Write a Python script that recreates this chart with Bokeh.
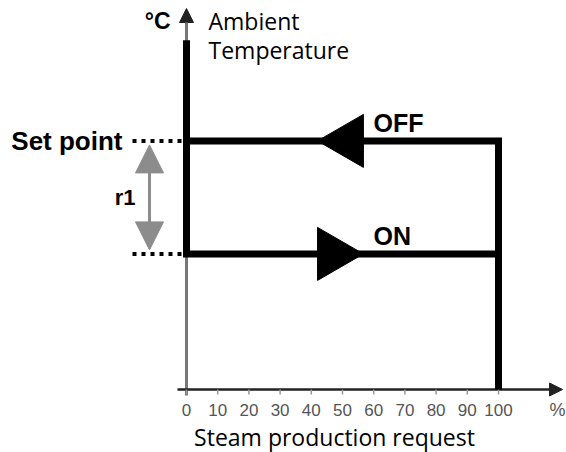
import math
from bokeh.plotting import figure
from bokeh.models import Range1d, Arrow, NormalHead
from bokeh.core.properties import value
from bokeh.embed import file_html
from bokeh.resources import INLINE

# ---------------- data ----------------
x_ticks = [0, 10, 20, 30, 40, 50, 60, 70, 80, 90, 100]
x_tick_labels = ["0", "10", "20", "30", "40", "50", "60", "70", "80", "90", "100"]
x_unit = "%"
x_title = "Steam production request"
y_unit = "°C"
y_title = ["Ambient", "Temperature"]
set_point = 22.0          # set point level (schematic units)
r1 = 10.0                 # differential
on_level = set_point - r1
req_min, req_max = 0, 100
trace_top = 30.9          # top of the ambient temperature trace
state_labels = ["OFF", "ON"]
state_levels = [set_point, on_level]
state_arrow_x = [51.8, 46.9]   # direction markers along the request axis

# ---------------- scales ----------------
PX_X = 3.12   # px per % unit
PX_Y = 11.3   # px per temperature unit
FRAME_W, FRAME_H = 566, 452
ORIGIN_X, ORIGIN_Y = 186, 389   # origin position inside the frame (px from left / top)


def dx(px):
    return px / PX_X


def dy(px):
    return px / PX_Y


x0 = -dx(ORIGIN_X)
y1 = dy(ORIGIN_Y)
p = figure(
    frame_width=FRAME_W, frame_height=FRAME_H,
    x_range=Range1d(x0, x0 + dx(FRAME_W)),
    y_range=Range1d(y1 - dy(FRAME_H), y1),
    output_backend="svg", toolbar_location=None,
    x_axis_location=None, y_axis_location=None,
    min_border_left=0, min_border_right=0, min_border_top=0, min_border_bottom=0,
)
p.grid.visible = False
p.outline_line_color = None
p.background_fill_color = "white"
p.border_fill_color = "white"

# axes with arrows
p.add_layout(Arrow(end=NormalHead(size=14, fill_color="#222222", line_color="#222222"),
                   x_start=req_min, y_start=-dy(6), x_end=req_min, y_end=dy(381),
                   line_color="#777777", line_width=3, level="underlay"))
p.add_layout(Arrow(end=NormalHead(size=13, fill_color="#222222", line_color="#222222"),
                   x_start=-dx(9), y_start=0, x_end=dx(376), y_end=0,
                   line_color="#222222", line_width=2.5, level="underlay"))

# x ticks and tick labels
p.segment(x0=x_ticks, x1=x_ticks, y0=[0] * len(x_ticks), y1=[-dy(5)] * len(x_ticks),
          line_color="#999999", line_width=1.5)
p.text(x=x_ticks, y=[-dy(20)] * len(x_ticks), text=x_tick_labels,
       text_align="center", text_baseline="middle", text_font=value("Liberation Sans"),
       text_font_size="17px", text_color="#555555")
p.text(x=[dx(379)], y=[-dy(20)], text=[x_unit], text_align="right",
       text_baseline="middle", text_font=value("Liberation Sans"),
       text_font_size="18px", text_color="#555555")
p.text(x=[dx(148)], y=[-dy(47)], text=[x_title], text_align="center",
       text_baseline="middle", text_font=value("Open Sans"),
       text_font_size="23px", text_color="black")

# hysteresis cycle
p.line(x=[req_min, req_min, req_max], y=[trace_top, on_level, on_level],
       line_width=7, line_color="black", line_join="miter")
p.line(x=[req_min, req_max, req_max], y=[set_point, set_point, 0],
       line_width=7, line_color="black", line_join="miter")

# dotted level markers
p.segment(x0=[-dx(54)] * 2, x1=[-dx(3)] * 2, y0=state_levels, y1=state_levels,
          line_width=4, line_color="black", line_dash="4 5")

# direction triangles
p.scatter(x=state_arrow_x, y=state_levels, marker="triangle", size=53,
          angle=[math.pi / 2, -math.pi / 2], fill_color="black", line_color="black")

# r1 double arrow
gray = "#8c8c8c"
p.add_layout(Arrow(start=NormalHead(size=28, fill_color=gray, line_color=gray),
                   end=NormalHead(size=28, fill_color=gray, line_color=gray),
                   x_start=-dx(37), y_start=on_level + dy(4),
                   x_end=-dx(37), y_end=set_point - dy(4),
                   line_color=gray, line_width=3))

bold = dict(text_font=value("Liberation Sans"), text_font_style="bold",
            text_baseline="middle", text_color="black")
p.text(x=[-dx(64)], y=[set_point], text=["Set point"], text_align="right",
       text_font_size="26px", **bold)
p.text(x=[-dx(51)], y=[set_point - r1 / 2], text=["r1"], text_align="right",
       text_font_size="22px", **bold)
p.text(x=[dx(187)] * 2, y=state_levels, text=state_labels, text_align="left",
       y_offset=-18, text_font_size="25px", **bold)
p.text(x=[-dx(16)], y=[dy(368.5)], text=[y_unit], text_align="right",
       text_font_size="23px", **bold)
p.text(x=[dx(22)] * 2, y=[dy(368.5), dy(339.5)], text=y_title, text_align="left",
       text_baseline="middle", text_font=value("Open Sans"), text_font_size="23px",
       text_color="black")

open("out.html", "w").write(file_html(p, INLINE))
